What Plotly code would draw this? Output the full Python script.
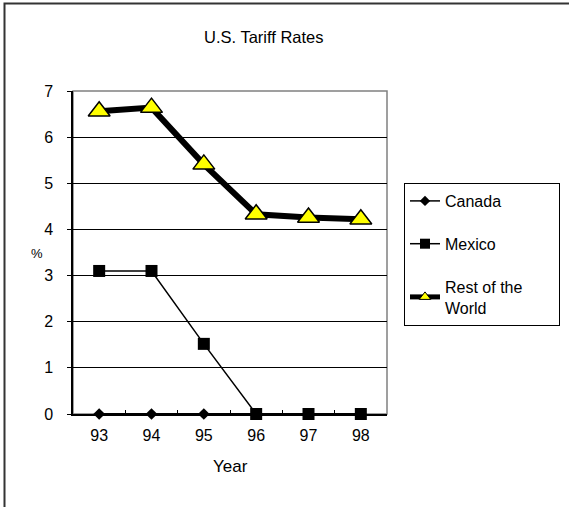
import plotly.graph_objects as go

years = ["93", "94", "95", "96", "97", "98"]
canada = [0, 0, 0, 0, 0, 0]
mexico = [3.1, 3.1, 1.52, 0, 0, 0]
rest_of_world = [6.56, 6.64, 5.41, 4.33, 4.26, 4.22]
series_names = ["Canada", "Mexico", "Rest of the" + "\u00a0" * 7 + "<br>World"]

W, H = 569, 507
L, R, T, B = 73, 387, 91, 414
pw, ph = R - L, B - T

def px(x):
    return (x - L) / pw

def py(y):
    return (B - y) / ph

FONT = "Liberation Sans, Arial, sans-serif"

styles = [
    dict(line=dict(color="black", width=2),
         marker=dict(symbol="diamond", size=9, color="black")),
    dict(line=dict(color="black", width=1.5),
         marker=dict(symbol="square", size=12, color="black")),
    dict(line=dict(color="black", width=6),
         marker=dict(symbol="triangle-up", size=19, color="#ffff00",
                     line=dict(color="black", width=1.5))),
]
legend_styles = [
    dict(line=dict(color="black", width=1.5),
         marker=dict(symbol="diamond", size=8, color="black")),
    dict(line=dict(color="black", width=1.5),
         marker=dict(symbol="square", size=10, color="black")),
    dict(line=dict(color="black", width=5),
         marker=dict(symbol="triangle-up", size=10, color="#ffff00",
                     line=dict(color="black", width=1))),
]

fig = go.Figure()
for vals, name, st in zip([canada, mexico, rest_of_world], series_names, styles):
    fig.add_trace(go.Scatter(x=years, y=vals, name=name, mode="lines+markers",
                             showlegend=False, cliponaxis=False, **st))
for i, (name, st) in enumerate(zip(series_names, legend_styles)):
    fig.add_trace(go.Scatter(x=[None], y=[None], name=name, mode="lines+markers",
                             legendgroup=str(i), showlegend=True, **st))

fig.update_layout(
    width=W, height=H,
    margin=dict(l=L, r=W - R, t=T, b=H - B, pad=0, autoexpand=False),
    paper_bgcolor="white", plot_bgcolor="white",
    font=dict(family=FONT, size=16, color="black"),
    legend=dict(
        x=px(404), y=py(183), xanchor="left", yanchor="top",
        bordercolor="black", borderwidth=1, bgcolor="white",
        font=dict(family=FONT, size=16, color="black"),
        traceorder="grouped", tracegroupgap=19,
        itemwidth=30,
    ),
    xaxis=dict(
        type="category", showgrid=False, zeroline=False,
        showline=True, linecolor="black", linewidth=1.5,
        ticks="inside", ticklen=4, tickcolor="black", tickson="boundaries",
        tickfont=dict(family=FONT, size=16),
        ticklabelstandoff=6,
        range=[-0.5, 5.5],
    ),
    yaxis=dict(
        range=[0, 7], dtick=1, tick0=0,
        showgrid=True, gridcolor="black", gridwidth=1,
        zeroline=False, showline=True, linecolor="black", linewidth=1.5,
        ticks="outside", ticklen=4, tickcolor="black",
        tickfont=dict(family=FONT, size=16),
        ticklabelstandoff=11,
    ),
    shapes=[
        dict(type="rect", xref="paper", yref="paper",
             x0=0, x1=1, y0=0, y1=1,
             line=dict(color="#808080", width=1.5), layer="below"),
        dict(type="rect", xref="paper", yref="paper",
             x0=px(4.5), x1=px(W + 20), y0=py(H + 20), y1=py(3.5),
             line=dict(color="#333333", width=2), layer="below"),
    ],
    annotations=[
        dict(text="U.S. Tariff Rates", xref="paper", yref="paper",
             x=px(264), y=py(37), xanchor="center", yanchor="middle",
             showarrow=False, font=dict(family=FONT, size=16.5)),
        dict(text="%", xref="paper", yref="paper",
             x=px(37), y=py(253), xanchor="center", yanchor="middle",
             showarrow=False, font=dict(family=FONT, size=13)),
        dict(text="Year", xref="paper", yref="paper",
             x=px(230), y=py(466), xanchor="center", yanchor="middle",
             showarrow=False, font=dict(family=FONT, size=17)),
    ],
)

fig.write_html("out.html")
